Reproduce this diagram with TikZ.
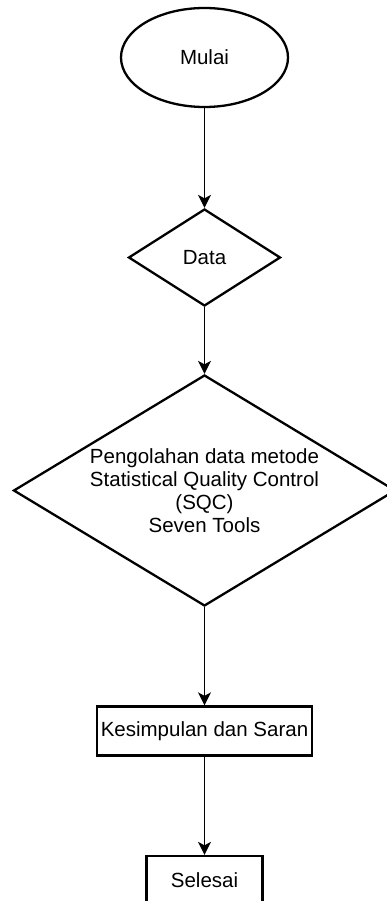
\documentclass[tikz,border=0pt]{standalone}
\usepackage{fontspec}
\setmainfont{Liberation Sans}
\usetikzlibrary{shapes.geometric,arrows.meta}
\begin{document}
\begin{tikzpicture}[x=1pt,y=-1pt,
  box/.style={draw=black, line width=2.3pt, inner sep=0pt, align=center,
    font=\fontsize{20.5}{22.8}\selectfont},
  flow/.style={draw=black, line width=1.3pt,
    -{Stealth[length=13pt,width=13pt,inset=3.5pt]}}]
\useasboundingbox (0,0) rectangle (386,901);

% flowchart steps
\node[box, ellipse, minimum width=167pt, minimum height=99pt] (mulai) at (204.5,57.5) {Mulai};
\node[box, diamond, aspect=1.55, minimum width=152pt, minimum height=97pt] (data) at (204.5,257.5) {Data};
\node[box, diamond, aspect=1.65, minimum width=382pt, minimum height=231pt] (olah) at (204.5,490.5)
  {Pengolahan data metode\\Statistical Quality Control\\(SQC)\\Seven Tools};
\node[box, rectangle, minimum width=215pt, minimum height=49pt] (simpul) at (204.5,731) {Kesimpulan dan Saran};
\node[box, rectangle, minimum width=116pt, minimum height=49pt] (selesai) at (204.5,880.5) {Selesai};

% connectors
\draw[flow] (mulai) -- (data);
\draw[flow] (data) -- (olah);
\draw[flow] (olah) -- (simpul);
\draw[flow] (simpul) -- (selesai);
\end{tikzpicture}
\end{document}
